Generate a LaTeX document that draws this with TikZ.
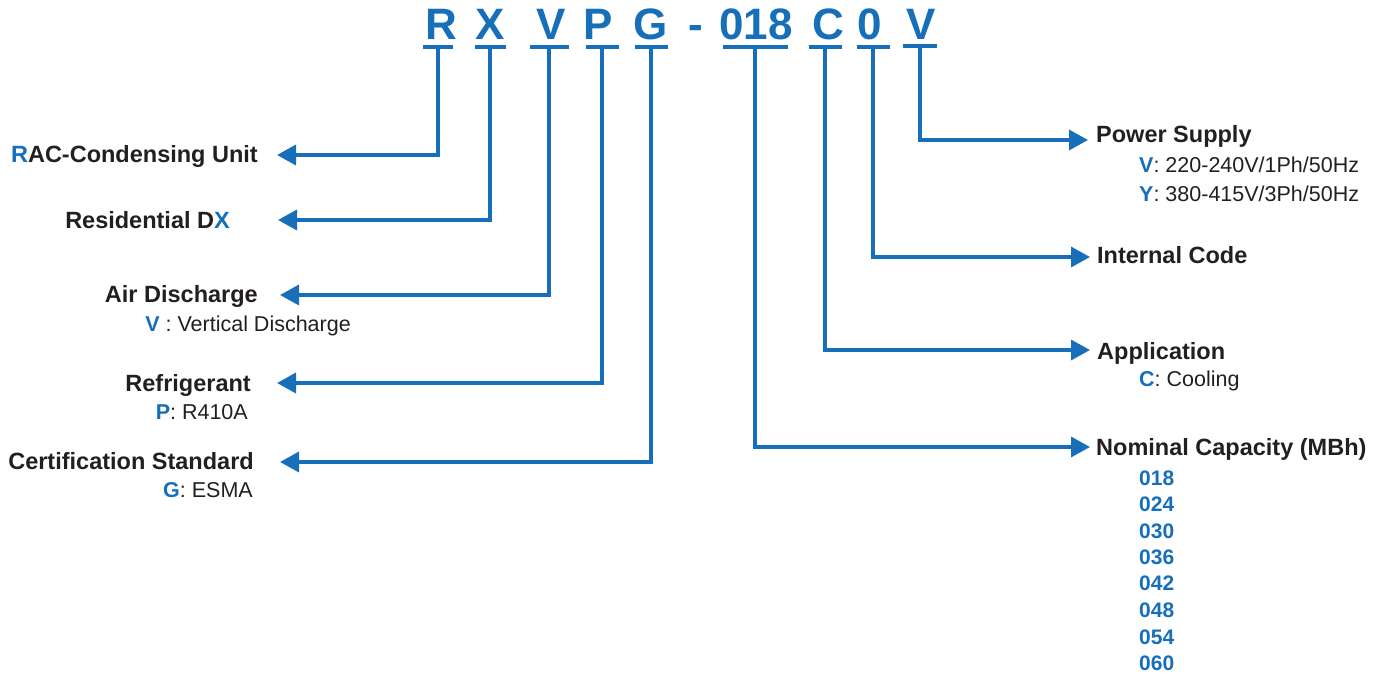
\documentclass[tikz,border=0pt]{standalone}
\usepackage{fontspec}
\setmainfont{Liberation Sans}
\usetikzlibrary{arrows.meta}
\definecolor{codeblue}{RGB}{23,111,186}
\definecolor{txt}{RGB}{35,31,32}
\begin{document}
\begin{tikzpicture}[x=1pt,y=-1pt,
  code/.style={inner sep=0pt,anchor=base,text=codeblue,font=\fontsize{44}{44}\selectfont\bfseries},
  head/.style={inner sep=0pt,text=txt,font=\fontsize{23.5}{26}\selectfont\bfseries},
  sub/.style={inner sep=0pt,text=txt,font=\fontsize{21.5}{24}\selectfont},
  num/.style={inner sep=0pt,anchor=base west,text=codeblue,font=\fontsize{21}{24}\selectfont\bfseries},
  bar/.style={draw=codeblue,line width=3.6pt},
  conn/.style={draw=codeblue,line width=3.4pt,-{Triangle[length=19pt,width=20pt]}}]
\useasboundingbox (0,0) rectangle (1382,674);
\newcommand{\hl}[1]{\textcolor{codeblue}{\bfseries #1}}
% code letters
\node[code] (cR) at (441,40) {R};
\node[code] (cX) at (490,40) {X};
\node[code] (cV) at (551,40) {V};
\node[code] (cP) at (598,40) {P};
\node[code] (cG) at (651,40) {G};
\node[code] (cD) at (696,40) {-};
\node[code] (cN) at (756,40) {018};
\node[code] (cC) at (828,40) {C};
\node[code] (cZ) at (870,40) {0};
\node[code] (cW) at (921,40) {V};
% bar centres
\coordinate (tR) at (438,47);
\coordinate (tX) at (490,47);
\coordinate (tV) at (549,47);
\coordinate (tP) at (602,47);
\coordinate (tG) at (651,47);
\coordinate (tN) at (755,47);
\coordinate (tC) at (825,47);
\coordinate (tZ) at (873,47);
\coordinate (tW) at (920,46);
\draw[bar] ([xshift=-15]tR) -- ([xshift=15]tR);
\draw[bar] ([xshift=-15.5]tX) -- ([xshift=15.5]tX);
\draw[bar] ([xshift=-19.5]tV) -- ([xshift=19.5]tV);
\draw[bar] ([xshift=-16.5]tP) -- ([xshift=16.5]tP);
\draw[bar] ([xshift=-16.5]tG) -- ([xshift=16.5]tG);
\draw[bar] ([xshift=-32.5]tN) -- ([xshift=32.5]tN);
\draw[bar] ([xshift=-16.5]tC) -- ([xshift=16.5]tC);
\draw[bar] ([xshift=-16.5]tZ) -- ([xshift=16.5]tZ);
\draw[bar] ([xshift=-17]tW) -- ([xshift=17]tW);
% arrow tips
\coordinate (aR) at (277,155);
\coordinate (aX) at (278,220);
\coordinate (aV) at (280,295);
\coordinate (aP) at (277,383);
\coordinate (aG) at (280,462);
\coordinate (aN) at (1090,447);
\coordinate (aC) at (1090,350);
\coordinate (aZ) at (1090,257);
\coordinate (aW) at (1088,140);
\draw[conn] (tR) |- (aR);
\draw[conn] (tX) |- (aX);
\draw[conn] (tV) |- (aV);
\draw[conn] (tP) |- (aP);
\draw[conn] (tG) |- (aG);
\draw[conn] (tN) |- (aN);
\draw[conn] (tC) |- (aC);
\draw[conn] (tZ) |- (aZ);
\draw[conn] (tW) |- (aW);
% left labels
\node[head,anchor=base east] (lR) at (258,163) {\hl{R}AC-Condensing Unit};
\node[head,anchor=base east] (lX) at (230,228) {Residential D\hl{X}};
\node[head,anchor=base east] (lV) at (258,302) {Air Discharge};
\node[sub,anchor=base east] (sV) at (351,331) {\hl{V} : Vertical Discharge};
\node[head,anchor=base east] (lP) at (251,391) {Refrigerant};
\node[sub,anchor=base east] (sP) at (248,419) {\hl{P}: R410A};
\node[head,anchor=base east] (lG) at (254,469) {Certification Standard};
\node[sub,anchor=base east] (sG) at (253,497) {\hl{G}: ESMA};
% right labels
\node[head,anchor=base west] (lW) at (1096,143) {Power Supply};
\node[sub,anchor=base west] (sW1) at (1139,173) {\hl{V}: 220-240V/1Ph/50Hz};
\node[sub,anchor=base west] (sW2) at (1139,201) {\hl{Y}: 380-415V/3Ph/50Hz};
\node[head,anchor=base west] (lZ) at (1097,263) {Internal Code};
\node[head,anchor=base west] (lC) at (1097,359) {Application};
\node[sub,anchor=base west] (sC) at (1139,386) {\hl{C}: Cooling};
\node[head,anchor=base west] (lN) at (1096,455) {Nominal Capacity (MBh)};
\node[num] (n1) at (1139,485) {018};
\node[num] (n2) at (1139,511) {024};
\node[num] (n3) at (1139,538) {030};
\node[num] (n4) at (1139,564) {036};
\node[num] (n5) at (1139,590) {042};
\node[num] (n6) at (1139,617) {048};
\node[num] (n7) at (1139,644) {054};
\node[num] (n8) at (1139,670) {060};
\end{tikzpicture}
\end{document}
